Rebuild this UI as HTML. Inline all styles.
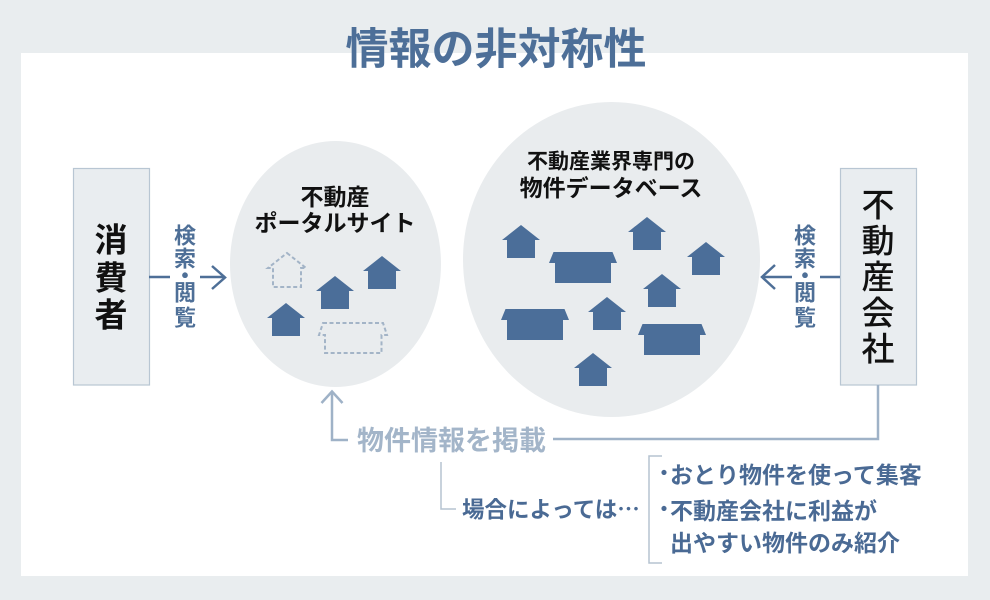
<!DOCTYPE html>
<html lang="ja">
<head>
<meta charset="utf-8">
<style>
  html,body{margin:0;padding:0;background:#e9edef;}
  svg{display:block;}
  text{font-family:"Liberation Sans","Noto Sans CJK JP",sans-serif;}
</style>
</head>
<body>
<svg width="990" height="600" viewBox="0 0 990 600" xmlns="http://www.w3.org/2000/svg">
  <rect x="0" y="0" width="990" height="600" fill="#e9edef"/>
  <rect x="21" y="53" width="947" height="523" fill="#ffffff"/>

  <!-- Title -->
  <text x="496" y="50" font-size="43" font-weight="bold" fill="#4d6f98" text-anchor="middle" dominant-baseline="central">情報の非対称性</text>

  <!-- Circles -->
  <ellipse cx="335.5" cy="264" rx="105.5" ry="123" fill="#e9ecee"/>
  <ellipse cx="611.5" cy="259.5" rx="148.5" ry="157.5" fill="#e9ecee"/>

  <!-- Left box -->
  <rect x="73.5" y="168.5" width="76" height="216.5" fill="#e9edf0" stroke="#b8c6d3" stroke-width="1.2"/>
  <g font-size="33" font-weight="bold" fill="#111" text-anchor="middle" dominant-baseline="central">
    <text x="111" y="240">消</text>
    <text x="111" y="278">費</text>
    <text x="111" y="315">者</text>
  </g>

  <!-- Right box -->
  <rect x="840.5" y="168.5" width="76" height="216.5" fill="#e9edf0" stroke="#b8c6d3" stroke-width="1.2"/>
  <g font-size="33" font-weight="500" fill="#111" text-anchor="middle" dominant-baseline="central">
    <text x="878" y="205">不</text>
    <text x="878" y="241">動</text>
    <text x="878" y="277">産</text>
    <text x="878" y="313">会</text>
    <text x="878" y="349">社</text>
  </g>

  <!-- Left arrow -->
  <g stroke="#4e6f97" stroke-width="2.5" fill="none">
    <line x1="149" y1="277" x2="170" y2="277"/>
    <line x1="200" y1="277" x2="225" y2="277"/>
    <polyline points="212,266 225,277.5 212,289"/>
  </g>
  <g font-size="22" font-weight="bold" fill="#4e6f97" text-anchor="middle" dominant-baseline="central">
    <text x="185" y="236">検</text>
    <text x="185" y="259">索</text>
    <text x="185" y="276">・</text>
    <text x="185" y="293">閲</text>
    <text x="185" y="318">覧</text>
  </g>

  <!-- Right arrow -->
  <g stroke="#4e6f97" stroke-width="2.5" fill="none">
    <line x1="762" y1="277" x2="792" y2="277"/>
    <line x1="820" y1="277" x2="840" y2="277"/>
    <polyline points="775,265 762,277 775,289"/>
  </g>
  <g font-size="22" font-weight="bold" fill="#4e6f97" text-anchor="middle" dominant-baseline="central">
    <text x="805" y="236">検</text>
    <text x="805" y="259">索</text>
    <text x="805" y="276">・</text>
    <text x="805" y="293">閲</text>
    <text x="805" y="318">覧</text>
  </g>

  <!-- Portal text -->
  <g font-size="23" font-weight="bold" fill="#111" text-anchor="middle" dominant-baseline="central">
    <text x="335" y="197">不動産</text>
    <text x="335" y="223">ポータルサイト</text>
  </g>

  <!-- DB text -->
  <g font-weight="bold" fill="#111" text-anchor="middle" dominant-baseline="central">
    <text x="611" y="162" font-size="21">不動産業界専門の</text>
    <text x="611" y="188" font-size="23">物件データベース</text>
  </g>

  <!-- Houses -->
  <g fill="#4b6e99">
    <!-- portal solid -->
    <polygon points="382,256 401,271 396,271 396,289 368,289 368,271 363,271"/>
    <polygon points="335,276 354,291 349,291 349,309 321,309 321,291 316,291"/>
    <polygon points="286,303 305,318 300,318 300,336 272,336 272,318 267,318"/>
    <!-- DB small -->
    <polygon points="521,225 540,240 535,240 535,258 507,258 507,240 502,240"/>
    <polygon points="647,217 666,232 661,232 661,250 633,250 633,232 628,232"/>
    <polygon points="706,242 725,257 720,257 720,275 692,275 692,257 687,257"/>
    <polygon points="662,274 681,289 676,289 676,307 648,307 648,289 643,289"/>
    <polygon points="607,297 626,312 621,312 621,330 593,330 593,312 588,312"/>
    <polygon points="593,353 612,368 607,368 607,386 579,386 579,368 574,368"/>
    <!-- DB wide -->
    <polygon points="553.5,252 612.5,252 617,263 611,263 611,283 555,283 555,263 549,263"/>
    <polygon points="505.5,309 564.5,309 569,320 563,320 563,340 507,340 507,320 501,320"/>
    <polygon points="642.5,324 701.5,324 706,335 700,335 700,355 644,355 644,335 638,335"/>
  </g>
  <!-- dashed houses -->
  <g fill="none" stroke="#a3b4c7" stroke-width="2" stroke-dasharray="4 2.5">
    <polygon points="287,253 306,268 301,268 301,287 273,287 273,268 268,268"/>
    <polygon points="323,323 383,323 387,335 381.5,335 381.5,353 325,353 325,335 319,335"/>
  </g>

  <!-- Bottom connectors -->
  <g stroke="#9fb2c7" stroke-width="2.5" fill="none">
    <polyline points="878,385 878,439 553,439"/>
    <polyline points="332,392 332,440 348,440"/>
    <polyline points="321.5,403 332,391.5 342.5,403"/>
  </g>
  <text x="451.5" y="441" font-size="27" font-weight="bold" fill="#a3b5c9" text-anchor="middle" dominant-baseline="central">物件情報を掲載</text>

  <g stroke="#b5c3d1" stroke-width="1.5" fill="none">
    <polyline points="441,462 441,509 456,509"/>
    <polyline points="662,456 649,456 649,563 662,563"/>
  </g>
  <text x="462" y="510" font-size="22.5" font-weight="bold" fill="#4a6a94" dominant-baseline="central">場合によっては⋯</text>

  <g font-size="23" font-weight="bold" fill="#4a6a94" dominant-baseline="central">
    <text x="664" y="474" text-anchor="middle" font-size="20">・</text>
    <text x="670" y="475">おとり物件を使って集客</text>
    <text x="664" y="510" text-anchor="middle" font-size="20">・</text>
    <text x="670" y="511">不動産会社に利益が</text>
    <text x="670" y="543">出やすい物件のみ紹介</text>
  </g>
</svg>
</body>
</html>
